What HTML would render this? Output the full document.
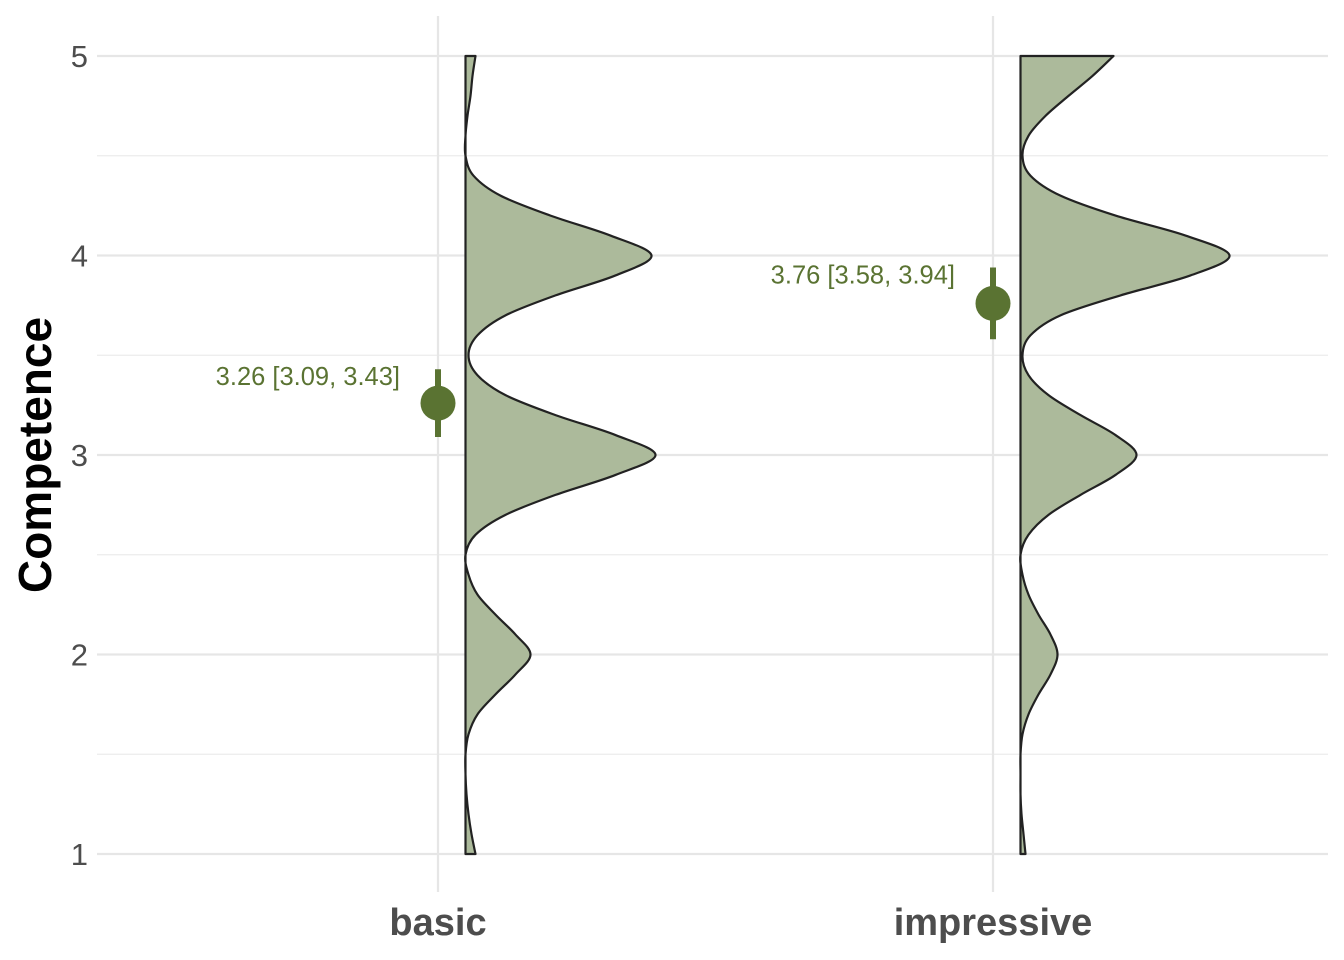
<!DOCTYPE html>
<html><head><meta charset="utf-8">
<style>
html,body{margin:0;padding:0;background:#fff;}
svg{display:block;font-family:"Liberation Sans",Arial,sans-serif;}
</style></head>
<body>
<svg id="chart" width="1344" height="960" viewBox="0 0 1344 960">
  <g id="grid"></g>
  <g id="violins"></g>
  <g id="points"></g>
  <g id="yticks"></g>
  <g id="xticks"></g>
  <text transform="translate(51,455) rotate(-90)" text-anchor="middle" font-size="46" font-weight="bold" fill="#000">Competence</text>
</svg>
<script>
const categories = ["basic", "impressive"];
const means = [3.26, 3.76];
const ciLow = [3.09, 3.58];
const ciHigh = [3.43, 3.94];
const densityY = [1.0,1.1,1.2,1.3,1.4,1.5,1.6,1.7,1.8,1.9,2.0,2.1,2.2,2.3,2.4,2.5,2.6,2.7,2.8,2.9,3.0,3.1,3.2,3.3,3.4,3.5,3.6,3.7,3.8,3.9,4.0,4.1,4.2,4.3,4.4,4.5,4.6,4.7,4.8,4.9,5.0];
const densityBasic = [10,6,3,1,0,0,3,12,30,50,65,50,30,12,3,0,10,40,90,150,190,150,90,40,12,3,12,40,90,150,186,145,85,35,8,0,0,2,5,7,10];
const densityImpressive = [5,3,1,0,0,0,2,8,18,30,37,30,18,8,2,0,8,28,60,95,116,95,60,28,8,2,10,40,100,170,209,165,95,40,10,2,8,25,48,72,93];
const yTicks = [1,2,3,4,5];
const yMinor = [1.5,2.5,3.5,4.5];

const NS = "http://www.w3.org/2000/svg";
const yPx = v => 854 - (v - 1) * 199.5;
const xPx = i => 438 + i * 555;
const dScale = d => d;
function mk(tag, attrs, parent){const e=document.createElementNS(NS,tag);for(const k in attrs)e.setAttribute(k,attrs[k]);parent.appendChild(e);return e;}

const grid = document.getElementById('grid');
yMinor.forEach(v=>{
  const l = mk('line',{x1:97,x2:1328,y1:yPx(v),y2:yPx(v),stroke:'#ebebeb','stroke-width':1.2},grid);
  
  
});
yTicks.forEach(v=>{
  const l = mk('line',{x1:97,x2:1328,y1:yPx(v),y2:yPx(v),stroke:'#e6e6e6','stroke-width':2.2},grid);
  
  
});
categories.forEach((c,i)=>{
  const l = mk('line',{x1:xPx(i),x2:xPx(i),y1:16,y2:892,stroke:'#e6e6e6','stroke-width':2.2},grid);
  
  
});

const dens = [densityBasic, densityImpressive];
const vg = document.getElementById('violins');
categories.forEach((c,i)=>{
  const base = xPx(i) + 27.5;
  const pts = densityY.map((y,k)=>[base + dScale(dens[i][k]), yPx(y)]);
  let d = `M${base},${yPx(densityY[0])} L${pts[0][0]},${pts[0][1]}`;
  for(let k=0;k<pts.length-1;k++){
    const p0=pts[Math.max(0,k-1)],p1=pts[k],p2=pts[k+1],p3=pts[Math.min(pts.length-1,k+2)];
    const c1=[p1[0]+(p2[0]-p0[0])/6,p1[1]+(p2[1]-p0[1])/6];
    const c2=[p2[0]-(p3[0]-p1[0])/6,p2[1]-(p3[1]-p1[1])/6];
    d+=` C${c1[0]},${c1[1]} ${c2[0]},${c2[1]} ${p2[0]},${p2[1]}`;
  }
  d+=` L${base},${yPx(densityY[densityY.length-1])} Z`;
  const p = mk('path',{d:d,fill:'#acba9b',stroke:'#222','stroke-width':2.2,'stroke-linejoin':'round'},vg);
  
  
});

const pg = document.getElementById('points');
categories.forEach((c,i)=>{
  const x = xPx(i);
  const l = mk('line',{x1:x,x2:x,y1:yPx(ciLow[i]),y2:yPx(ciHigh[i]),stroke:'#5a7332','stroke-width':6},pg);
  
  
  const cc = mk('circle',{cx:x,cy:yPx(means[i]),r:17.5,fill:'#5a7332'},pg);
  
  
  const t = mk('text',{x:x-38,y:yPx(ciHigh[i])+16,'text-anchor':'end','font-size':25.5,fill:'#5a7332'},pg);
  t.textContent = means[i].toFixed(2)+' ['+ciLow[i].toFixed(2)+', '+ciHigh[i].toFixed(2)+']';
  
  
});

const yt = document.getElementById('yticks');
yTicks.forEach(v=>{
  const t = mk('text',{x:88,y:yPx(v)+11,'text-anchor':'end','font-size':31,fill:'#4d4d4d'},yt);
  t.textContent = v;
  
  
});
const xt = document.getElementById('xticks');
categories.forEach((c,i)=>{
  const t = mk('text',{x:xPx(i),y:935,'text-anchor':'middle','font-size':38,'font-weight':'bold',fill:'#4d4d4d'},xt);
  t.textContent = c;
  
  
});
</script>
</body></html>
